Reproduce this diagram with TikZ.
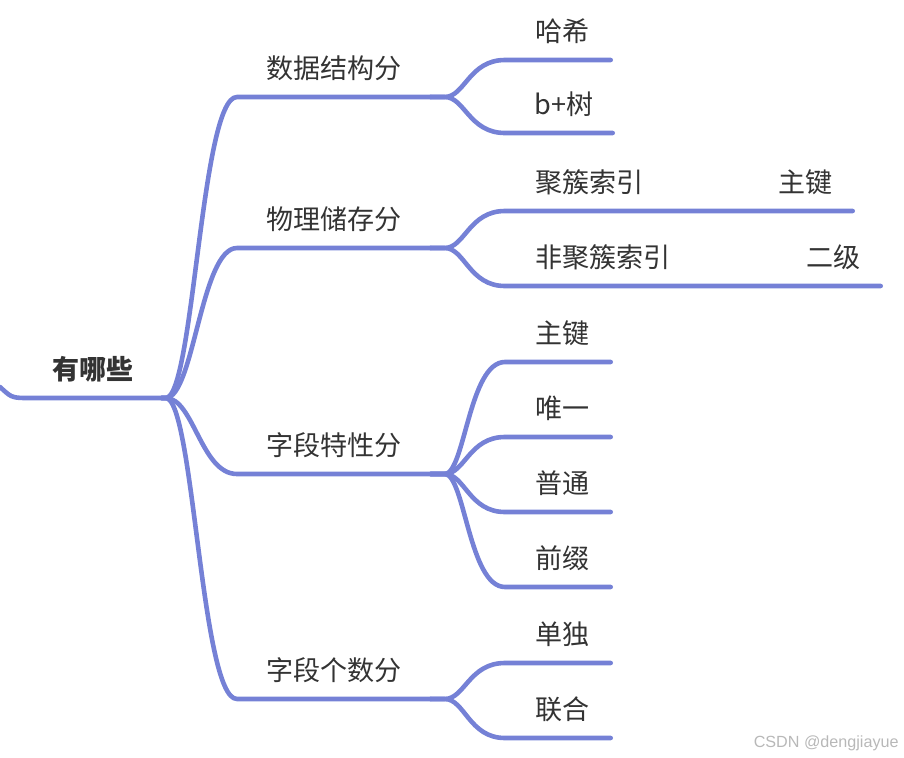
\documentclass[tikz,border=0pt]{standalone}
\usepackage{fontspec}
\usepackage{tikz}
\usetikzlibrary{positioning,calc}
\newfontfamily\cjk{Noto Sans CJK SC}
\newfontfamily\markfont{Liberation Sans}
\definecolor{branchline}{HTML}{7581D6}
\definecolor{darktext}{HTML}{333333}
\definecolor{marktext}{HTML}{B8B8B8}
\newdimen\pxu \pxu=0.02cm
\tikzset{
  topicnode/.style={inner sep=0pt,minimum height=50*\pxu,text height=0.88em,text depth=0.12em,align=center,font=\cjk\fontsize{15.4}{18}\selectfont,text=darktext,anchor=south west},
  rootnode/.style={topicnode,font=\cjk\bfseries\fontsize{15.4}{18}\selectfont},
  leafnode/.style={topicnode,execute at begin node=\hspace*{10\pxu}},
  link/.style={branchline,line width=4.6*\pxu,line cap=round,line join=round},
  marknode/.style={font=\markfont\fontsize{9.2}{11}\selectfont,text=marktext,inner sep=0pt}
}
\begin{document}
\begin{tikzpicture}[x=0.02cm,y=-0.02cm]
  \useasboundingbox (0,0) rectangle (904,758);
  % root
  \coordinate (incoming) at (0,387);
  \node[rootnode,minimum width=136*\pxu] (root) at (25,398) {有哪些};

  % level 1
  \node[topicnode,minimum width=193*\pxu] (structure) at (237,97) {数据结构分};
  \node[topicnode,minimum width=193*\pxu] (storage) at (237,248) {物理储存分};
  \node[topicnode,minimum width=193*\pxu] (feature) at (237,474) {字段特性分};
  \node[topicnode,minimum width=193*\pxu] (count) at (237,699) {字段个数分};

  % level 2
  \node[leafnode,minimum width=105*\pxu] (hash) at (505,60) {哈希};
  \node[leafnode,minimum width=107*\pxu] (btree) at (505,133) {b+树};
  \node[leafnode,minimum width=347*\pxu] (clustered) at (505,211) {\makebox[297\pxu][l]{聚簇索引\hfill 主键}};
  \node[leafnode,minimum width=375*\pxu] (nonclustered) at (505,286) {\makebox[325\pxu][l]{非聚簇索引\hfill 二级}};
  \node[leafnode,minimum width=105*\pxu] (primary) at (505,362) {主键};
  \node[leafnode,minimum width=105*\pxu] (unique) at (505,437) {唯一};
  \node[leafnode,minimum width=105*\pxu] (normal) at (505,512) {普通};
  \node[leafnode,minimum width=105*\pxu] (prefix) at (505,587) {前缀};
  \node[leafnode,minimum width=105*\pxu] (single) at (505,663) {单独};
  \node[leafnode,minimum width=105*\pxu] (joint) at (505,738) {联合};

  \node[marknode,anchor=east] (mark) at (899,743) {CSDN @dengjiayue};

  % connectors
  \draw[link] (incoming) .. controls +(10,9) and +(-14,0) .. (root.south west) -- ++(4,0) -- (root.south east);
  \foreach \child in {structure,storage,feature,count}
    \draw[link] (root.south east) -- ++(4,0) .. controls +(28,0) and +(-36,0) .. (\child.south west) -- (\child.south east);
  \foreach \parent/\child in {structure/hash,structure/btree,storage/clustered,storage/nonclustered,feature/primary,feature/unique,feature/normal,feature/prefix,count/single,count/joint}
    \draw[link] (\parent.south east) -- ++(14,0) .. controls +(20,0) and +(-36,0) .. (\child.south west) -- (\child.south east);
\end{tikzpicture}
\end{document}
